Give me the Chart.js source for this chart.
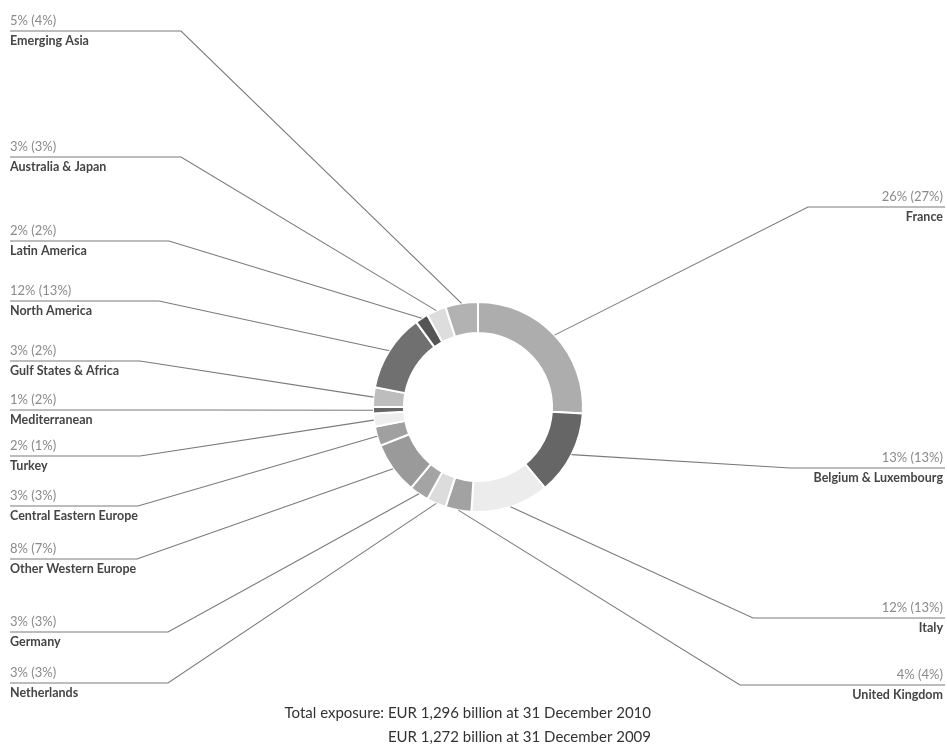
<!DOCTYPE html>
<html lang="en">
<head>
    <meta charset="UTF-8">
    <title>Total exposure by region</title>
    <script src="https://cdn.jsdelivr.net/npm/chart.js"></script>
    <style>
        html, body {
            margin: 0;
            padding: 0;
            background: #fff;
        }
        .wrap {
            position: relative;
            width: 947px;
            height: 745px;
        }
    </style>
</head>
<body>
    <div class="wrap">
        <canvas id="exposureChart" width="947" height="745"></canvas>
    </div>

    <script>
        // Exposure share by region, 2010 with 2009 in brackets
        const regions = [
            'France', 'Belgium & Luxembourg', 'Italy', 'United Kingdom', 'Netherlands',
            'Germany', 'Other Western Europe', 'Central Eastern Europe', 'Turkey',
            'Mediterranean', 'Gulf States & Africa', 'North America', 'Latin America',
            'Australia & Japan', 'Emerging Asia'
        ];
        const share2010 = [26, 13, 12, 4, 3, 3, 8, 3, 2, 1, 3, 12, 2, 3, 5];
        const share2009 = [27, 13, 13, 4, 3, 3, 7, 3, 1, 2, 2, 13, 2, 3, 4];
        const totalLines = [
            'Total exposure: EUR 1,296 billion at 31 December 2010',
            'EUR 1,272 billion at 31 December 2009'
        ];

        const sliceColors = [
            '#adadad', '#666666', '#ececec', '#a2a2a2', '#dcdcdc',
            '#a4a4a4', '#9a9a9a', '#a0a0a0', '#eeeeee',
            '#666666', '#bdbdbd', '#707070', '#555555',
            '#dddddd', '#b2b2b2'
        ];

        // where each callout sits: side, y of the rule, x of the elbow
        const callouts = [
            { side: 'R', y: 207, elbow: 808 },
            { side: 'R', y: 468, elbow: 790 },
            { side: 'R', y: 618, elbow: 753 },
            { side: 'R', y: 685, elbow: 740 },
            { side: 'L', y: 683, elbow: 168 },
            { side: 'L', y: 632, elbow: 168 },
            { side: 'L', y: 559, elbow: 137 },
            { side: 'L', y: 506, elbow: 138 },
            { side: 'L', y: 456, elbow: 140 },
            { side: 'L', y: 410, elbow: 200 },
            { side: 'L', y: 361, elbow: 140 },
            { side: 'L', y: 301, elbow: 159 },
            { side: 'L', y: 241, elbow: 169 },
            { side: 'L', y: 157, elbow: 181 },
            { side: 'L', y: 31, elbow: 181 }
        ];

        const FONT = 'Lato, "Open Sans", sans-serif';

        const calloutPlugin = {
            id: 'callouts',
            afterDraw(chart) {
                const ctx = chart.ctx;
                const arcs = chart.getDatasetMeta(0).data;
                ctx.save();
                arcs.forEach((arc, i) => {
                    const c = callouts[i];
                    const mid = (arc.startAngle + arc.endAngle) / 2;
                    const r = arc.outerRadius;
                    const px = arc.x + Math.cos(mid) * r;
                    const py = arc.y + Math.sin(mid) * r;
                    const edge = c.side === 'L' ? 10 : 945;

                    ctx.strokeStyle = '#7a7a7a';
                    ctx.lineWidth = 1.1;
                    ctx.beginPath();
                    ctx.moveTo(px, py);
                    ctx.lineTo(c.elbow, c.y);
                    ctx.lineTo(edge, c.y);
                    ctx.stroke();

                    ctx.textAlign = c.side === 'L' ? 'left' : 'right';
                    const tx = c.side === 'L' ? 10 : 943;
                    ctx.font = '13px ' + FONT;
                    ctx.fillStyle = '#8a8a8a';
                    ctx.textBaseline = 'bottom';
                    ctx.fillText(share2010[i] + '% (' + share2009[i] + '%)', tx, c.y - 4);
                    ctx.font = 'bold 12.5px ' + FONT;
                    ctx.fillStyle = '#454545';
                    ctx.textBaseline = 'top';
                    ctx.fillText(regions[i], tx, c.y + 4);
                });

                ctx.font = '15px ' + FONT;
                ctx.fillStyle = '#333333';
                ctx.textAlign = 'right';
                ctx.textBaseline = 'middle';
                ctx.fillText(totalLines[0], 651, 713);
                ctx.fillText(totalLines[1], 651, 737);
                ctx.restore();
            }
        };

        new Chart(document.getElementById('exposureChart'), {
            type: 'doughnut',
            data: {
                labels: regions,
                datasets: [{
                    data: share2010,
                    backgroundColor: sliceColors,
                    borderColor: '#ffffff',
                    borderWidth: 2
                }]
            },
            options: {
                responsive: false,
                animation: false,
                events: [],
                radius: 105,
                cutout: '70.5%',
                layout: {
                    padding: { left: 300, right: 291, top: 200, bottom: 131 }
                },
                plugins: {
                    legend: { display: false },
                    tooltip: { enabled: false }
                }
            },
            plugins: [calloutPlugin]
        });
    </script>
</body>
</html>
